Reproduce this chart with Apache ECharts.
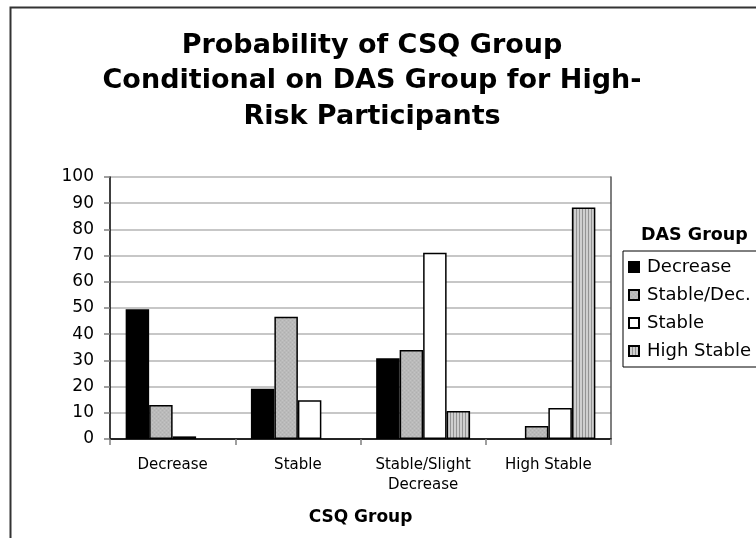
<!DOCTYPE html>
<html>
<head>
<meta charset="utf-8">
<style>
  html, body { margin: 0; padding: 0; background: #fff; }
  #chart { width: 756px; height: 538px; }
</style>
<script src="https://cdn.jsdelivr.net/npm/echarts@6/dist/echarts.min.js"></script>
</head>
<body>
<div id="chart"></div>
<script>
// CSQ groups along the x axis
const categories = ['Decrease', 'Stable', 'Stable/Slight\nDecrease', 'High Stable'];
// DAS groups, one series each (probabilities in %)
const dasGroups = ['Decrease', 'Stable/Dec.', 'Stable', 'High Stable'];
const decreaseValues    = [49.5, 19.2, 30.8, 0];
const stableDecValues   = [13.0, 46.7, 34.0, 5.0];
const stableValues      = [1.0, 14.8, 71.1, 11.8];
const highStableValues  = [0, 0, 10.7, 88.4];
const yTicks = [0, 10, 20, 30, 40, 50, 60, 70, 80, 90, 100];

const FONT = 'DejaVu Sans, Verdana, sans-serif';

// fine speckled grey fill
function speckle() {
  const c = document.createElement('canvas');
  c.width = 4; c.height = 4;
  const g = c.getContext('2d');
  g.fillStyle = '#bababa'; g.fillRect(0, 0, 4, 4);
  g.fillStyle = '#b0b0b0';
  g.fillRect(0, 0, 1, 1); g.fillRect(2, 2, 1, 1);
  g.fillStyle = '#c4c4c4';
  g.fillRect(2, 0, 1, 1); g.fillRect(0, 2, 1, 1);
  return c;
}
// vertical pin-stripe fill
function stripes() {
  const c = document.createElement('canvas');
  c.width = 3; c.height = 3;
  const g = c.getContext('2d');
  g.fillStyle = '#cfcfcf'; g.fillRect(0, 0, 3, 3);
  g.fillStyle = '#939393'; g.fillRect(0, 0, 1, 3);
  return c;
}

const fills = [
  '#000000',
  { image: speckle(), repeat: 'repeat' },
  '#ffffff',
  { image: stripes(), repeat: 'repeat' }
];
const seriesValues = [decreaseValues, stableDecValues, stableValues, highStableValues];

const chart = echarts.init(document.getElementById('chart'), null, { renderer: 'canvas' });

chart.setOption({
  animation: false,
  backgroundColor: '#ffffff',
  textStyle: { fontFamily: FONT, color: '#000' },
  title: [
    {
      text: 'Probability of CSQ Group\nConditional on DAS Group for High-\nRisk Participants',
      left: 367, top: 23, textAlign: 'center',
      textStyle: { fontFamily: FONT, fontWeight: 'bold', fontSize: 27, lineHeight: 35.5, color: '#000' }
    },
    {
      text: 'DAS Group',
      left: 636, top: 221,
      textStyle: { fontFamily: FONT, fontWeight: 'bold', fontSize: 17.5, color: '#000' }
    }
  ],
  legend: {
    orient: 'vertical',
    left: 623, top: 251,
    data: dasGroups,
    icon: 'rect',
    itemWidth: 10, itemHeight: 10,
    itemGap: 10,
    padding: [7, 20, 7, 5],
    borderColor: '#000', borderWidth: 1,
    textStyle: { fontFamily: FONT, fontSize: 18, color: '#000', padding: [0, 0, 0, 3] }
  },
  grid: { left: 110, top: 177, right: 145, bottom: 99 },
  xAxis: [
    {
      type: 'category',
      data: categories,
      name: 'CSQ Group',
      nameLocation: 'middle',
      nameGap: 70,
      nameTextStyle: { fontFamily: FONT, fontWeight: 'bold', fontSize: 17, color: '#000' },
      axisLine: { lineStyle: { color: '#808080', width: 1.5 } },
      axisTick: { show: true, length: 6, lineStyle: { color: '#808080', width: 1.5 } },
      axisLabel: { fontFamily: FONT, fontSize: 15, color: '#000', margin: 16, lineHeight: 20 }
    },
    {
      type: 'category',
      data: categories,
      position: 'top',
      axisLine: { lineStyle: { color: '#000', width: 1.5 } },
      axisTick: { show: false },
      axisLabel: { show: false }
    }
  ],
  yAxis: [
    {
      type: 'value',
      min: yTicks[0], max: yTicks[yTicks.length - 1], interval: 10,
      axisLine: { show: true, lineStyle: { color: '#000', width: 1.5 } },
      axisTick: { show: true, length: 6, lineStyle: { color: '#808080', width: 1.5 } },
      axisLabel: { fontFamily: FONT, fontSize: 17, color: '#000', margin: 16 },
      splitLine: { lineStyle: { color: '#b4b4b4', width: 1.5 } }
    },
    {
      type: 'value',
      position: 'right',
      min: yTicks[0], max: yTicks[yTicks.length - 1], interval: 10,
      axisLine: { show: true, lineStyle: { color: '#555', width: 1.5 } },
      axisTick: { show: false },
      axisLabel: { show: false },
      splitLine: { show: false }
    }
  ],
  series: dasGroups.map((name, i) => ({
    name: name,
    type: 'bar',
    xAxisIndex: 0,
    yAxisIndex: 0,
    data: seriesValues[i].map(v => (v === 0 ? null : v)),
    barGap: '0%',
    barCategoryGap: '25%',
    itemStyle: { color: fills[i], borderColor: '#000', borderWidth: 1.5 }
  })),
  graphic: [
    {
      type: 'rect',
      silent: true,
      z: -1,
      shape: { x: 10.5, y: 7.5, width: 800, height: 600 },
      style: { fill: null, stroke: '#333', lineWidth: 2 }
    }
  ]
});
</script>
</body>
</html>
